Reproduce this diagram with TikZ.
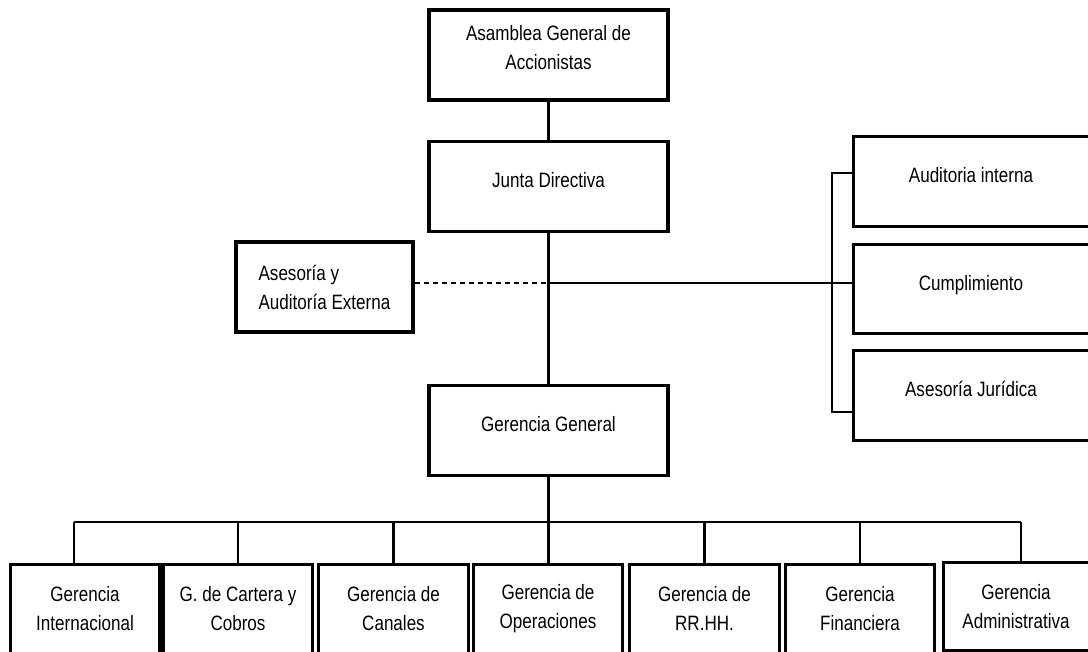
\documentclass[tikz,border=0pt]{standalone}
\usepackage{fontspec}
\setmainfont{Liberation Sans}[FakeStretch=0.82]
\usepackage{tikz}
\usetikzlibrary{positioning}

\begin{document}
\begin{tikzpicture}[x=0.5pt, y=-0.5pt,
  font=\fontsize{10.4}{14.5}\selectfont,
  unit/.style    ={rectangle, draw, line width=1.6pt, align=center,
                   minimum width=119.5pt, minimum height=45pt, inner sep=2pt},
  one/.style     ={text height=7.2pt, text depth=6pt},
  openbox/.style ={rectangle, align=center, inner sep=2pt},
  rim/.style     ={line width=1.6pt},
  link/.style    ={line width=1.45pt},
  ext/.style     ={line width=1pt, dash pattern=on 2.5pt off 2pt},
]
\path[use as bounding box] (0,0) rectangle (1088,652);

% === Main column ===
\node[unit, text depth=8pt] (asam) at (548.5,55) {Asamblea General de\\Accionistas};
\node[unit, one, below=19pt of asam] (junta) {Junta Directiva};
\node[unit, one, below=75.5pt of junta] (gg) {Gerencia General};

% === External advisory (left) ===
\node[unit, align=left, minimum width=88.5pt] (ases) at (324.5,287)
  {Asesoría y\\Auditoría Externa};

% === Staff units (right, cut at the page edge) ===
\node[openbox, one, minimum width=117pt, minimum height=44.5pt] (audit)
  at (971,181.5) {Auditoria interna};
\node[openbox, one, minimum width=117pt, minimum height=44pt] (cumpl)
  at (971,289) {Cumplimiento};
\node[openbox, one, minimum width=117pt, minimum height=44.5pt] (jurid)
  at (971,395.5) {Asesoría Jurídica};

\draw[rim] (audit.north east) -- (audit.north west) -- (audit.south west) -- (audit.south east);
\draw[rim] (cumpl.north east) -- (cumpl.north west) -- (cumpl.south west) -- (cumpl.south east);
\draw[rim] (jurid.north east) -- (jurid.north west) -- (jurid.south west) -- (jurid.south east);

% === Managements (bottom row, cut at the page edge) ===
\node[openbox, minimum width=74.5pt, minimum height=43.5pt] (gInt)
  at (85,608.5) {Gerencia\\Internacional};
\node[openbox, minimum width=74pt, minimum height=43.5pt] (gCart)
  at (238,608.5) {G. de Cartera y\\Cobros};
\node[openbox, minimum width=74.5pt, minimum height=43.5pt] (gCan)
  at (393.5,608.5) {Gerencia de\\Canales};
\node[openbox, minimum width=74pt, minimum height=43.5pt] (gOp)
  at (548,608.5) {Gerencia de\\Operaciones};
\node[openbox, minimum width=74.5pt, minimum height=43.5pt] (gRH)
  at (704.5,608.5) {Gerencia de\\RR.HH.};
\node[openbox, minimum width=74pt, minimum height=43.5pt] (gFin)
  at (860,608.5) {Gerencia\\Financiera};
\node[openbox, minimum width=72pt, minimum height=43.5pt] (gAdm)
  at (1016,606.5) {Gerencia\\Administrativa};

\draw[rim] (gInt.south west) -- (gInt.north west) -- (gInt.north east) -- (gInt.south east);
\draw[rim] (gCart.south west) -- (gCart.north west) -- (gCart.north east) -- (gCart.south east);
\draw[rim] (gCan.south west) -- (gCan.north west) -- (gCan.north east) -- (gCan.south east);
\draw[rim] (gOp.south west) -- (gOp.north west) -- (gOp.north east) -- (gOp.south east);
\draw[rim] (gRH.south west) -- (gRH.north west) -- (gRH.north east) -- (gRH.south east);
\draw[rim] (gFin.south west) -- (gFin.north west) -- (gFin.north east) -- (gFin.south east);
\draw[rim] (gAdm.north east) -- (gAdm.north west) -- (gAdm.south west) -- (gAdm.south east);

% === Connectors ===
\coordinate (hub)  at (548.5,283);
\coordinate (brk)  at (832,283);
\coordinate (brkT) at (832,173);
\coordinate (brkB) at (832,412);
\coordinate (busL) at (74,522);
\coordinate (busR) at (1021,522);

\draw[link] (asam) -- (junta);
\draw[link] (junta) -- (gg);
\draw[link] (gg.south) -- (gg.south |- gOp.north);

\draw[ext] (ases.east |- hub) -- (hub);
\draw[link] (hub) -- (brk);
\draw[link] (audit.west |- brkT) -| (brkB) -- (jurid.west |- brkB);
\draw[link] (brk) -- (cumpl.west |- brk);

\draw[link] (busL) -- (busR);
\draw[link] (busL) -- (busL |- gInt.north);
\draw[link] (gCart.north |- busL) -- (gCart.north);
\draw[link] (gCan.north |- busL) -- (gCan.north);
\draw[link] (gRH.north |- busL) -- (gRH.north);
\draw[link] (gFin.north |- busL) -- (gFin.north);
\draw[link] (busR) -- (busR |- gAdm.north);

\end{tikzpicture}
\end{document}
